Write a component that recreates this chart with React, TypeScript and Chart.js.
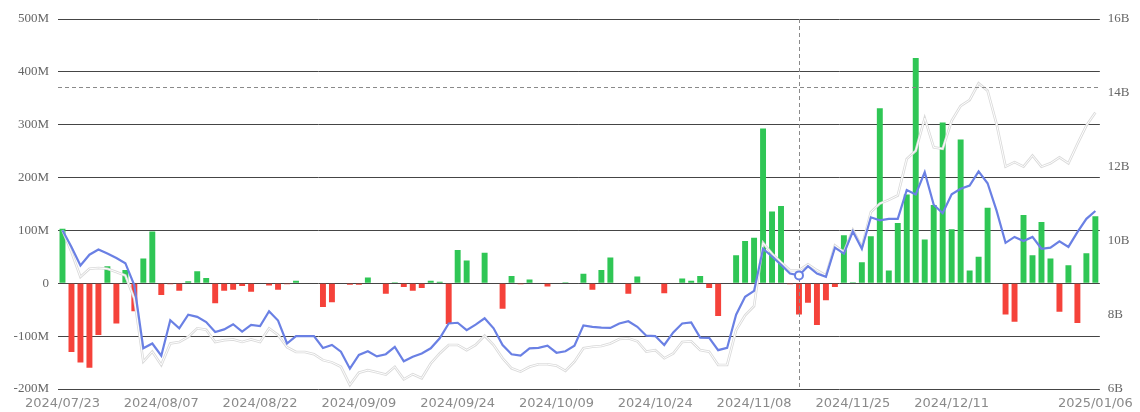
import React, { useEffect, useRef } from 'react';
import { Chart, registerables } from 'chart.js';

Chart.register(...registerables);

// Trading days (categories)
const dates: string[] = [
  '2024/07/23', '2024/07/24', '2024/07/25', '2024/07/26', '2024/07/29', '2024/07/30', '2024/07/31',
  '2024/08/01', '2024/08/02', '2024/08/05', '2024/08/06', '2024/08/07', '2024/08/08', '2024/08/09',
  '2024/08/12', '2024/08/13', '2024/08/14', '2024/08/15', '2024/08/16', '2024/08/19', '2024/08/20',
  '2024/08/21', '2024/08/22', '2024/08/23', '2024/08/26', '2024/08/27', '2024/08/28', '2024/08/29',
  '2024/08/30',
  '2024/09/03', '2024/09/04', '2024/09/05', '2024/09/06', '2024/09/09', '2024/09/10', '2024/09/11',
  '2024/09/12', '2024/09/13', '2024/09/16', '2024/09/17', '2024/09/18', '2024/09/19', '2024/09/20',
  '2024/09/23', '2024/09/24', '2024/09/25', '2024/09/26', '2024/09/27', '2024/09/30',
  '2024/10/01', '2024/10/02', '2024/10/03', '2024/10/04', '2024/10/07', '2024/10/08', '2024/10/09',
  '2024/10/10', '2024/10/11', '2024/10/14', '2024/10/15', '2024/10/16', '2024/10/17', '2024/10/18',
  '2024/10/21', '2024/10/22', '2024/10/23', '2024/10/24', '2024/10/25', '2024/10/28', '2024/10/29',
  '2024/10/30', '2024/10/31',
  '2024/11/01', '2024/11/04', '2024/11/05', '2024/11/06', '2024/11/07', '2024/11/08', '2024/11/11',
  '2024/11/12', '2024/11/13', '2024/11/14', '2024/11/15', '2024/11/18', '2024/11/19', '2024/11/20',
  '2024/11/21', '2024/11/22', '2024/11/25', '2024/11/26', '2024/11/27', '2024/11/29',
  '2024/12/02', '2024/12/03', '2024/12/04', '2024/12/05', '2024/12/06', '2024/12/09', '2024/12/10',
  '2024/12/11', '2024/12/12', '2024/12/13', '2024/12/16', '2024/12/17', '2024/12/18', '2024/12/19',
  '2024/12/20', '2024/12/23', '2024/12/24', '2024/12/26', '2024/12/27', '2024/12/30', '2024/12/31',
  '2025/01/02', '2025/01/03', '2025/01/06',
];

// Category indices whose date label is shown
const shownTickIndices: number[] = [0, 11, 22, 33, 44, 55, 66, 77, 88, 99, 115];

// Net flow bars, in millions
const flowM: number[] = [
  103, -130, -150, -160, -98, 32, -76, 25, -53, 47,
  98, -22, -2, -14, 4, 23, 10, -38, -14, -12,
  -5, -16, -1, -4, -12, -2, 5, 0, 0, -45,
  -36, 0, -3, -3, 11, 0, -20, 2, -7, -14,
  -9, 5, 3, -77, 63, 43, 0, 58, 0, -48,
  14, -2, 7, 0, -6, 0, 2, 0, 18, -12,
  25, 49, 1, -20, 13, 1, 1, -19, 0, 9,
  5, 14, -9, -62, 0, 53, 80, 86, 293, 136,
  146, -2, -59, -37, -79, -32, -7, 91, 2, 40,
  89, 331, 24, 114, 168, 426, 83, 148, 304, 102,
  272, 24, 50, 143, 1, -59, -73, 129, 53, 116,
  47, -54, 34, -75, 57, 127,
];

// Blue line, in billions (right axis)
const blueB: number[] = [
  10.29, 9.84, 9.34, 9.63, 9.77, 9.66, 9.54, 9.40, 8.80, 7.10,
  7.23, 6.90, 7.86, 7.64, 8.01, 7.95, 7.81, 7.54, 7.61, 7.75,
  7.55, 7.73, 7.70, 8.10, 7.85, 7.23, 7.43, 7.43, 7.43, 7.11,
  7.19, 7.01, 6.55, 6.92, 7.02, 6.88, 6.94, 7.14, 6.75, 6.87,
  6.96, 7.10, 7.37, 7.77, 7.79, 7.59, 7.74, 7.91, 7.64, 7.19,
  6.94, 6.90, 7.10, 7.11, 7.17, 6.98, 7.02, 7.17, 7.72, 7.68,
  7.66, 7.65, 7.77, 7.83, 7.68, 7.44, 7.43, 7.19, 7.53, 7.77,
  7.80, 7.39, 7.38, 7.05, 7.11, 8.01, 8.49, 8.65, 9.79, 9.58,
  9.36, 9.12, 9.07, 9.32, 9.12, 9.03, 9.82, 9.66, 10.26, 9.79,
  10.64, 10.56, 10.60, 10.60, 11.38, 11.26, 11.86, 10.98, 10.75, 11.26,
  11.41, 11.50, 11.88, 11.56, 10.82, 9.95, 10.11, 10.00, 10.11, 9.79,
  9.82, 9.99, 9.84, 10.24, 10.60, 10.81,
];

// Grey line, in billions (right axis)
const greyB: number[] = [
  10.29, 9.70, 9.03, 9.25, 9.27, 9.25, 9.16, 9.07, 8.44, 6.74,
  7.01, 6.65, 7.23, 7.27, 7.41, 7.64, 7.60, 7.27, 7.32, 7.34,
  7.27, 7.34, 7.27, 7.64, 7.46, 7.13, 7.00, 7.00, 6.94, 6.78,
  6.72, 6.60, 6.11, 6.44, 6.51, 6.45, 6.39, 6.60, 6.26, 6.40,
  6.29, 6.69, 6.96, 7.19, 7.19, 7.05, 7.19, 7.44, 7.19, 6.83,
  6.56, 6.47, 6.60, 6.67, 6.67, 6.63, 6.49, 6.74, 7.10, 7.14,
  7.16, 7.23, 7.35, 7.37, 7.29, 7.01, 7.05, 6.83, 6.96, 7.27,
  7.29, 7.05, 7.01, 6.65, 6.65, 7.59, 7.99, 8.24, 9.95, 9.66,
  9.43, 9.21, 9.21, 9.37, 9.21, 9.07, 9.88, 9.70, 10.30, 9.84,
  10.78, 11.01, 11.11, 11.23, 12.22, 12.44, 13.32, 12.53, 12.49, 13.25,
  13.65, 13.81, 14.26, 14.06, 13.16, 12.01, 12.13, 12.01, 12.31, 12.01,
  12.10, 12.26, 12.10, 12.62, 13.12, 13.47,
];

// Axis ticks
const leftMinM = -200;
const leftMaxM = 500;
const leftStepM = 100;
const rightMinB = 6;
const rightMaxB = 16;
const rightStepB = 2;

// Hover state shown in the picture
const hoverIndex = 82;
const cursorB = 14.16;

const GREEN = '#2fc655';
const RED = '#f5423a';
const BLUE = '#6a80e4';

const crosshairPlugin = {
  id: 'crosshair',
  afterDatasetsDraw(chart: any) {
    const { ctx, chartArea, scales } = chart;
    const x = Math.round(scales.x.getPixelForValue(hoverIndex)) + 0.5;
    const y = Math.round(scales.y1.getPixelForValue(cursorB * 1e9)) + 0.5;
    ctx.save();
    ctx.setLineDash([4, 3]);
    ctx.strokeStyle = '#8a8a8a';
    ctx.lineWidth = 1;
    ctx.beginPath();
    ctx.moveTo(x, chartArea.top);
    ctx.lineTo(x, chartArea.bottom);
    ctx.moveTo(chartArea.left, y);
    ctx.lineTo(chartArea.right, y);
    ctx.stroke();
    ctx.setLineDash([]);
    const py = scales.y1.getPixelForValue(blueB[hoverIndex] * 1e9);
    ctx.beginPath();
    ctx.arc(scales.x.getPixelForValue(hoverIndex), py, 4, 0, Math.PI * 2);
    ctx.fillStyle = '#ffffff';
    ctx.fill();
    ctx.strokeStyle = BLUE;
    ctx.lineWidth = 2;
    ctx.stroke();
    ctx.restore();
  },
};

export default function App() {
  const canvasRef = useRef<HTMLCanvasElement | null>(null);

  useEffect(() => {
    document.body.style.margin = '0';
    const canvas = canvasRef.current;
    if (!canvas) return;
    const chart = new Chart(canvas, {
      data: {
        labels: dates,
        datasets: [
          {
            type: 'line',
            label: 'blue',
            data: blueB.map((v) => v * 1e9),
            yAxisID: 'y1',
            borderColor: BLUE,
            borderWidth: 2.2,
            pointRadius: 0,
            tension: 0,
            order: 0,
          },
          {
            type: 'line',
            label: 'grey-inner',
            data: greyB.map((v) => v * 1e9),
            yAxisID: 'y1',
            borderColor: '#ffffff',
            borderWidth: 1,
            pointRadius: 0,
            tension: 0,
            order: 1,
          },
          {
            type: 'line',
            label: 'grey-outer',
            data: greyB.map((v) => v * 1e9),
            yAxisID: 'y1',
            borderColor: '#dadada',
            borderWidth: 2.6,
            pointRadius: 0,
            tension: 0,
            order: 2,
          },
          {
            type: 'bar',
            label: 'flow',
            data: flowM.map((v) => v * 1e6),
            yAxisID: 'y',
            backgroundColor: flowM.map((v) => (v >= 0 ? GREEN : RED)),
            categoryPercentage: 1,
            barPercentage: 0.66,
            order: 3,
          },
        ],
      } as any,
      options: {
        animation: false,
        responsive: true,
        maintainAspectRatio: false,
        layout: { padding: { top: 19, left: 0, right: 0, bottom: 0 } },
        plugins: {
          legend: { display: false },
          tooltip: { enabled: false },
        },
        events: [],
        scales: {
          x: {
            type: 'category',
            offset: true,
            grid: { display: false, drawTicks: false },
            border: { display: false },
            ticks: {
              autoSkip: false,
              maxRotation: 0,
              minRotation: 0,
              padding: 7,
              color: '#8a8a8a',
              font: { family: 'DejaVu Sans', size: 13 },
              callback: (_v: any, i: number) => (shownTickIndices.includes(i) ? dates[i] : ''),
            },
            afterFit: (s: any) => {
              s.height = 23;
            },
          },
          y: {
            position: 'left',
            min: leftMinM * 1e6,
            max: leftMaxM * 1e6,
            grid: { color: '#454545', lineWidth: 1, drawTicks: false },
            border: { display: false },
            ticks: {
              stepSize: leftStepM * 1e6,
              padding: 9,
              color: '#666',
              font: { family: 'Liberation Serif', size: 13 },
              callback: (v: any) => (v === 0 ? '0' : `${Math.round(v / 1e6)}M`),
            },
            afterFit: (s: any) => {
              s.width = 58;
            },
          },
          y1: {
            position: 'right',
            min: rightMinB * 1e9,
            max: rightMaxB * 1e9,
            grid: { display: false, drawTicks: false },
            border: { display: false },
            ticks: {
              stepSize: rightStepB * 1e9,
              padding: 8,
              color: '#666',
              font: { family: 'Liberation Serif', size: 13 },
              callback: (v: any) => `${Math.round(v / 1e9)}B`,
            },
            afterFit: (s: any) => {
              s.width = 39;
            },
          },
        },
      },
      plugins: [crosshairPlugin],
    });
    return () => chart.destroy();
  }, []);

  return (
    <div style={{ position: 'relative', width: 1140, height: 412 }}>
      <canvas ref={canvasRef} />
    </div>
  );
}
